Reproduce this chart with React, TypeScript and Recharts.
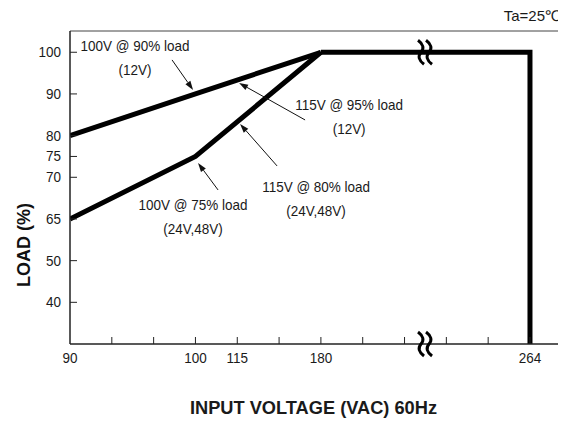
import { LineChart, Line, XAxis, YAxis, ReferenceLine, ReferenceDot } from 'recharts';

// axis breaks: tick values and the slot each one sits on (scale is not linear)
const voltageTicks = [90, 100, 115, 180, 264];
const voltageSlots = [0, 3, 4, 6, 11];
const loadTicks = [30, 40, 50, 65, 70, 75, 80, 90, 100];
const loadSlots = [0, 1, 2, 3, 4, 4.5, 5, 6, 7];
const loadLabels = [40, 50, 65, 70, 75, 80, 90, 100];

// derating curves
const upperVoltage = [90, 100, 180];
const upperLoad = [80, 90, 100];
const lowerVoltage = [90, 100, 180];
const lowerLoad = [65, 75, 100];
const limitVoltage = [180, 264, 264];
const limitLoad = [100, 100, 30];

const X_MAX = 11.67;
const Y_MAX = 7.51;
const FONT = '"Liberation Sans", Arial, sans-serif';
const NARROW = 0.9;

function piecewise(value: number, from: number[], to: number[]) {
  for (let i = 1; i < from.length; i++) {
    if (value <= from[i] || i === from.length - 1) {
      const t = (value - from[i - 1]) / (from[i] - from[i - 1]);
      return to[i - 1] + t * (to[i] - to[i - 1]);
    }
  }
  return to[0];
}

const toX = (v: number) => piecewise(v, voltageTicks, voltageSlots);
const toY = (l: number) => piecewise(l, loadTicks, loadSlots);

function curve(volts: number[], loads: number[]) {
  return volts.map((v, i) => ({ x: toX(v), y: toY(loads[i]) }));
}

// annotations, placed in slot units
const notes = [
  { x: 1.555, y: 7.15, lines: ['100V @ 90% load', '(12V)'] },
  { x: 6.675, y: 5.736, lines: ['115V @ 95% load', '(12V)'] },
  { x: 5.885, y: 3.768, lines: ['115V @ 80% load', '(24V,48V)'] },
  { x: 2.943, y: 3.336, lines: ['100V @ 75% load', '(24V,48V)'] },
];
const arrows = [
  { from: [2.44, 6.816], to: [2.943, 6.096] },
  { from: [5.622, 5.376], to: [4.043, 6.264] },
  { from: [4.952, 4.272], to: [4.067, 5.28] },
  { from: [3.541, 3.696], to: [3.062, 4.344] },
];
const breaks = [
  { x: 8.49, y: 7 },
  { x: 8.49, y: 0 },
];

const xTickSlots = [0, 1, 2, 3, 4, 5, 6, 7, 8, 9, 10, 11];

function NText({ x, y, anchor = 'start', size = 15, weight = 'normal', scale = NARROW, children }: any) {
  return (
    <text
      transform={`translate(${x},${y}) scale(${scale},1)`}
      x={0}
      y={0}
      textAnchor={anchor}
      fontSize={size}
      fontWeight={weight}
      fill="#1a1a1a"
      fontFamily={FONT}
    >
      {children}
    </text>
  );
}

function BottomTick(props: any) {
  const { x, y, payload } = props;
  const idx = voltageSlots.indexOf(payload.value);
  return (
    <g>
      {payload.value > 0 && <line x1={x} y1={y} x2={x} y2={y - 7} stroke="#222" strokeWidth={1} />}
      {idx >= 0 && (
        <NText x={x} y={y + 19} anchor="middle">
          {voltageTicks[idx]}
        </NText>
      )}
    </g>
  );
}

function LeftTick(props: any) {
  const { x, y, payload } = props;
  const idx = loadSlots.indexOf(payload.value);
  return (
    <g>
      <line x1={x} y1={y} x2={x + 7} y2={y} stroke="#222" strokeWidth={1} />
      <NText x={x - 9} y={y + 5} anchor="end">
        {loadTicks[idx]}
      </NText>
    </g>
  );
}

function RightTick(props: any) {
  const { x, y } = props;
  return <line x1={x} y1={y} x2={x - 4} y2={y} stroke="#444" strokeWidth={1} />;
}

function Arrow(props: any) {
  const { x1, y1, x2, y2 } = props;
  const ang = Math.atan2(y2 - y1, x2 - x1);
  const len = 9;
  const w = 3;
  const bx = x2 - len * Math.cos(ang);
  const by = y2 - len * Math.sin(ang);
  const px = -Math.sin(ang) * w;
  const py = Math.cos(ang) * w;
  return (
    <g>
      <line x1={x1} y1={y1} x2={bx} y2={by} stroke="#111" strokeWidth={1} />
      <polygon points={`${x2},${y2} ${bx + px},${by + py} ${bx - px},${by - py}`} fill="#111" />
    </g>
  );
}

function Note(lines: string[]) {
  return (props: any) => (
    <g>
      {lines.map((t, i) => (
        <NText key={i} x={props.cx} y={props.cy + 5 + i * 24} anchor="middle">
          {t}
        </NText>
      ))}
    </g>
  );
}

function BreakMark(props: any) {
  const { cx, cy } = props;
  return (
    <g fill="none" stroke="#000" strokeWidth={3}>
      {[-4, 4].map((d) => (
        <path
          key={d}
          d={`M${cx + d - 3},${cy - 12} Q${cx + d + 5},${cy - 6} ${cx + d},${cy} T${cx + d + 3},${cy + 12}`}
        />
      ))}
    </g>
  );
}

export default function App() {
  return (
    <LineChart
      width={558}
      height={416}
      margin={{ top: 23, right: 8, bottom: 0, left: 0 }}
      style={{ fontFamily: FONT }}
    >
      <XAxis
        dataKey="x"
        type="number"
        domain={[0, X_MAX]}
        ticks={xTickSlots}
        interval={0}
        allowDataOverflow
        height={80}
        tickSize={0}
        tickMargin={0}
        tickLine={false}
        axisLine={{ stroke: '#222', strokeWidth: 1.5 }}
        tick={<BottomTick />}
        label={{
          content: (p: any) => (
            <NText
              x={p.viewBox.x + p.viewBox.width / 2 - 0.5}
              y={p.viewBox.y + 70}
              anchor="middle"
              size={19}
              weight="bold"
              scale={0.96}
            >
              INPUT VOLTAGE (VAC) 60Hz
            </NText>
          ),
        }}
      />
      <YAxis
        type="number"
        domain={[0, Y_MAX]}
        ticks={loadLabels.map(toY)}
        interval={0}
        allowDataOverflow
        width={62}
        tickSize={0}
        tickMargin={0}
        tickLine={false}
        axisLine={{ stroke: '#222', strokeWidth: 1.5 }}
        tick={<LeftTick />}
        label={{
          content: () => (
            <text
              x={16}
              y={237}
              transform="rotate(-90 16 237)"
              textAnchor="middle"
              dominantBaseline="central"
              fontSize={18}
              fontWeight="bold"
              fill="#111"
              fontFamily={FONT}
            >
              LOAD (%)
            </text>
          ),
        }}
      />
      <YAxis
        yAxisId="right"
        orientation="right"
        type="number"
        domain={[0, Y_MAX]}
        ticks={[1, 2, 3, 4, 5, 6, 7]}
        interval={0}
        width={0}
        tickSize={0}
        tickMargin={0}
        tickLine={false}
        axisLine={{ stroke: '#444', strokeWidth: 1 }}
        tick={<RightTick />}
      />
      <ReferenceLine
        y={Y_MAX}
        stroke="#444"
        strokeWidth={1}
        ifOverflow="visible"
        label={{
          content: (p: any) => (
            <text
              x={p.viewBox.x + p.viewBox.width + 2}
              y={p.viewBox.y - 10}
              textAnchor="end"
              fontSize={15}
              fill="#1a1a1a"
              fontFamily={FONT}
            >
              Ta=25℃
            </text>
          ),
        }}
      />
      <Line
        data={curve(upperVoltage, upperLoad)}
        dataKey="y"
        type="linear"
        stroke="#000"
        strokeWidth={5}
        dot={false}
        isAnimationActive={false}
      />
      <Line
        data={curve(lowerVoltage, lowerLoad)}
        dataKey="y"
        type="linear"
        stroke="#000"
        strokeWidth={5}
        dot={false}
        isAnimationActive={false}
      />
      <Line
        data={curve(limitVoltage, limitLoad)}
        dataKey="y"
        type="linear"
        stroke="#000"
        strokeWidth={5}
        strokeLinejoin="miter"
        dot={false}
        isAnimationActive={false}
      />
      {arrows.map((a, i) => (
        <ReferenceLine
          key={`a${i}`}
          segment={[
            { x: a.from[0], y: a.from[1] },
            { x: a.to[0], y: a.to[1] },
          ]}
          shape={<Arrow />}
        />
      ))}
      {notes.map((n, i) => (
        <ReferenceDot key={`n${i}`} x={n.x} y={n.y} r={1} shape={Note(n.lines)} />
      ))}
      {breaks.map((b, i) => (
        <ReferenceDot key={`b${i}`} x={b.x} y={b.y} r={1} ifOverflow="visible" shape={<BreakMark />} />
      ))}
    </LineChart>
  );
}
